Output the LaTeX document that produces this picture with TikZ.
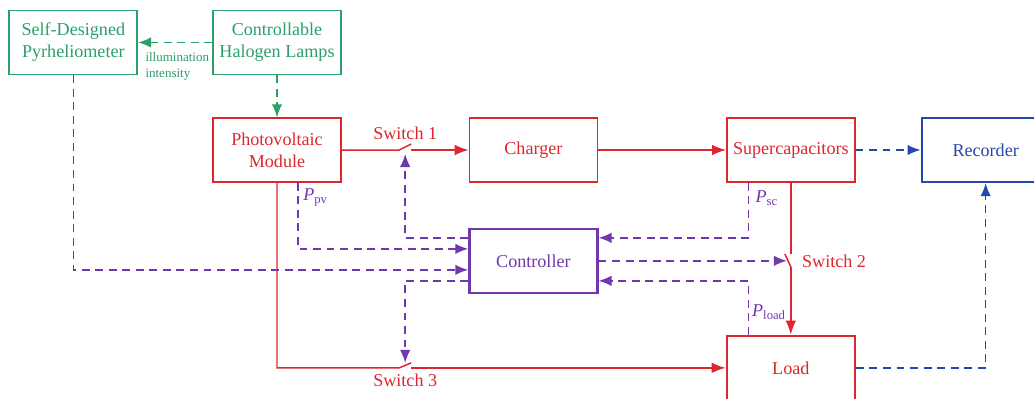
\documentclass[tikz,border=0pt]{standalone}
\usepackage{fontspec}
\setmainfont{Liberation Serif}
\usetikzlibrary{arrows.meta,positioning,calc}
\definecolor{pvred}{RGB}{222,38,46}
\definecolor{lampgreen}{RGB}{42,160,105}
\definecolor{ctrlpurple}{RGB}{112,56,170}
\definecolor{recblue}{RGB}{36,72,172}

\begin{document}
\begin{tikzpicture}[
  block/.style={rectangle, draw=pvred, text=pvred, fill=white, line width=0.8pt, minimum width=2.56cm, minimum height=1.28cm, inner sep=0pt, align=center, font=\rmfamily\fontsize{10.3}{12.5}\selectfont},
  greenblock/.style={block, draw=lampgreen, text=lampgreen, line width=0.95pt},
  wire/.style={draw=pvred, line width=0.85pt},
  power/.style={wire, -{Latex[length=2.8mm,width=2.1mm]}},
  sig/.style={draw=ctrlpurple, line width=0.9pt, dash pattern=on 4.5pt off 3.2pt, -{Latex[length=2.6mm,width=2.1mm]}},
  light/.style={sig, draw=lampgreen},
  rec/.style={sig, draw=recblue},
  lbl/.style={inner sep=0pt, text=pvred, font=\rmfamily\fontsize{10.3}{12.5}\selectfont},
  meas/.style={inner sep=0pt, text=ctrlpurple, font=\rmfamily\fontsize{10.3}{12.5}\selectfont}
]
\useasboundingbox (-5.54,3.0) rectangle (15.14,-4.96);
\node[block] (pv) at (0,0) {Photovoltaic\\Module};
\node[block, right=2.54cm of pv] (chg) {Charger};
\node[block, right=2.56cm of chg] (sc) {Supercapacitors};
\node[block, draw=recblue, text=recblue, line width=1.3pt, right=1.3cm of sc] (rec) {Recorder};
\node[block, draw=ctrlpurple, text=ctrlpurple, line width=1.3pt, below=0.9cm of chg] (ctrl) {Controller};
\node[block, line width=1.3pt, below=3.04cm of sc] (load) {Load};
\node[greenblock, above=0.84cm of pv] (hal) {Controllable\\Halogen Lamps};
\node[greenblock, left=1.48cm of hal] (pyr) {Self-Designed\\Pyrheliometer};
\node[inner sep=0pt, anchor=north west, align=left, text=lampgreen, font=\rmfamily\fontsize{7.4}{9}\selectfont] (ill) at ([xshift=0.14cm,yshift=-0.2cm]pyr.east) {illumination\\intensity};

% switches
\coordinate (sw1) at ($(pv.east)!0.5!(chg.west)$);
\coordinate (sw2) at (sc.south |- ctrl.east);
\coordinate (sw3) at (sw1 |- load.west);
\node[lbl, above=0.2cm of sw1] (s1l) {Switch 1};
\node[lbl, right=0.22cm of sw2] (s2l) {Switch 2};
\node[lbl, below=0.12cm of sw3] (s3l) {Switch 3};

% power flow
\draw[wire] (pv.east) -- ([xshift=-0.12cm]sw1) -- ([xshift=0.12cm,yshift=0.12cm]sw1);
\draw[power] ([xshift=0.12cm]sw1) -- (chg.west);
\draw[power] (chg.east) -- (sc.west);
\draw[wire] (sc.south) -- ([yshift=0.14cm]sw2);
\draw[wire] ([yshift=-0.12cm]sw2) -- ([xshift=-0.12cm,yshift=0.14cm]sw2);
\draw[power] ([yshift=-0.12cm]sw2) -- (load.north);
\draw[wire] (pv.south) |- ([xshift=-0.12cm]sw3) -- ([xshift=0.12cm,yshift=0.1cm]sw3);
\draw[power] ([xshift=0.12cm]sw3) -- (load.west);

% light
\draw[light] (hal.west) -- (pyr.east);
\draw[light] (hal.south) -- (pv.north);

% measurements and control
\draw[sig] (pyr.south) |- ([yshift=-0.18cm]ctrl.west);
\draw[sig] ([xshift=0.42cm]pv.south) |- ([yshift=0.24cm]ctrl.west);
\draw[sig] ([xshift=-0.85cm]sc.south) |- ([yshift=0.46cm]ctrl.east);
\draw[sig] ([xshift=-0.85cm]load.north) |- ([yshift=-0.4cm]ctrl.east);
\draw[sig] ([yshift=0.46cm]ctrl.west) -| ([yshift=-0.08cm]sw1);
\draw[sig] ([yshift=-0.4cm]ctrl.west) -| ([yshift=0.1cm]sw3);
\draw[sig] (ctrl.east) -- ([xshift=-0.08cm]sw2);
\node[meas, anchor=north west] (ppv) at ([xshift=0.52cm,yshift=-0.12cm]pv.south) {\textit{P}\textsubscript{pv}};
\node[meas, anchor=north west] (psc) at ([xshift=-0.71cm,yshift=-0.16cm]sc.south) {\textit{P}\textsubscript{sc}};
\node[meas, anchor=south west] (pld) at ([xshift=-0.78cm,yshift=0.3cm]load.north) {\textit{P}\textsubscript{load}};

% recording
\draw[rec] (sc.east) -- (rec.west);
\draw[rec] (load.east) -| (rec.south);
\end{tikzpicture}
\end{document}
